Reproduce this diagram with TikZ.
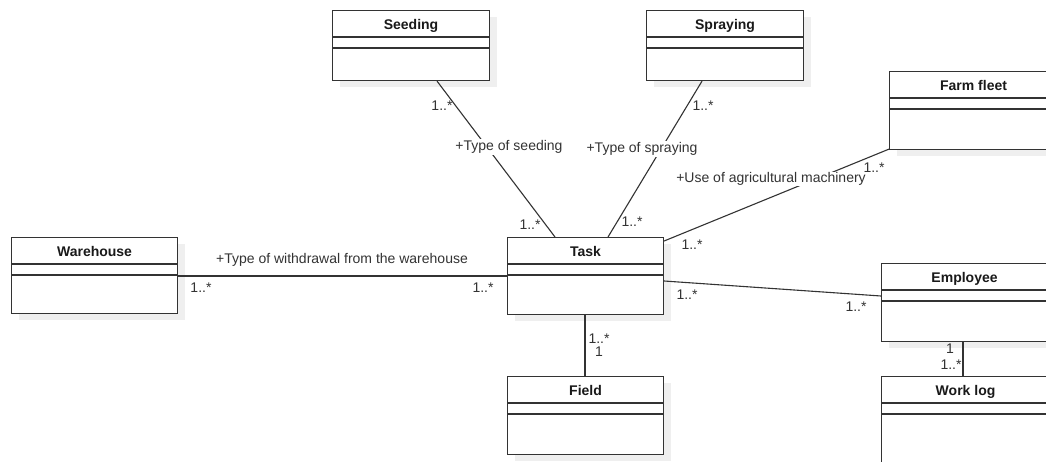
\documentclass[tikz,border=0pt]{standalone}
\usepackage{fontspec}
\setmainfont{Liberation Sans}
\usetikzlibrary{calc}
\definecolor{ink}{HTML}{333333}
\definecolor{shd}{HTML}{EFEFEF}
\tikzset{
  umlbox/.style={draw=ink, line width=1.1pt, fill=white, rectangle, inner sep=0pt, anchor=north west},
  ttl/.style={font=\fontsize{14}{16}\selectfont\bfseries, inner sep=0pt, text=black!90, anchor=base},
  lbl/.style={font=\fontsize{14}{16}\selectfont, inner sep=1.5pt, fill=white, text=ink},
  mult/.style={font=\fontsize{14}{16}\selectfont, inner sep=0pt, text=ink},
  conn/.style={draw=ink, line width=1.1pt},
  sep/.style={draw=ink, line width=1.1pt}
}
\newcommand\umlcls[6]{%
  \fill[shd] (#2+8,#3+7) rectangle ++(#4,#5);
  \node[umlbox, minimum width=#4pt, minimum height=#5pt] (#1) at (#2,#3) {};
  \node[ttl] (#1-t) at ($(#1.north)+(0,19)$) {#6};
  \draw[sep] ($(#1.north west)+(0,27)$) -- ($(#1.north east)+(0,27)$);
  \draw[sep] ($(#1.north west)+(0,38)$) -- ($(#1.north east)+(0,38)$);
}
\begin{document}
\begin{tikzpicture}[x=1pt,y=-1pt]
\useasboundingbox (0,0) rectangle (1046,461);
\clip (0,0) rectangle (1046,461);
\fill[white] (0,0) rectangle (1046,461);
% classes
\umlcls{seeding}{332}{10}{157}{70}{Seeding}
\umlcls{spraying}{646}{10}{157}{70}{Spraying}
\umlcls{farm}{889}{71}{168}{78}{Farm fleet}
\umlcls{warehouse}{11}{237}{166}{76}{Warehouse}
\umlcls{task}{507}{237}{156}{77}{Task}
\umlcls{employee}{881}{263}{166}{78}{Employee}
\umlcls{field}{507}{376}{156}{78}{Field}
\umlcls{worklog}{881}{376}{168}{110}{Work log}
% connectors
\draw[conn] ($(seeding.south west)+(105,0)$) -- ($(task.north west)+(48,0)$);
\draw[conn] ($(spraying.south west)+(56,0)$) -- ($(task.north west)+(101,0)$);
\draw[conn] ($(farm.south west)+(0,-1)$) -- ($(task.north east)+(0,4)$);
\draw[conn] ($(warehouse.north east)+(0,39)$) -- ($(task.north west)+(0,39)$);
\draw[conn] ($(task.north east)+(0,44)$) -- ($(employee.north west)+(0,33)$);
\draw[conn] ($(task.south west)+(78,0)$) -- ($(field.north west)+(78,0)$);
\draw[conn] ($(employee.south west)+(82,0)$) -- ($(worklog.north west)+(82,0)$);
% labels
\node[mult] (m1) at (442,106) {1..*};
\node[lbl] (l1) at (509,147) {+Type of seeding};
\node[mult] (m2) at (530,225) {1..*};
\node[mult] (m3) at (703,106) {1..*};
\node[lbl] (l2) at (642,149) {+Type of spraying};
\node[mult] (m4) at (632,222) {1..*};
\node[mult] (m5) at (874,168) {1..*};
\node[lbl, inner ysep=0.5pt] (l3) at (771,179) {+Use of agricultural machinery};
\node[mult] (m6) at (692,245) {1..*};
\node[lbl] (l4) at (342,260) {+Type of withdrawal from the warehouse};
\node[mult] (m7) at (201,288) {1..*};
\node[mult] (m8) at (483,288) {1..*};
\node[mult] (m9) at (687,295) {1..*};
\node[mult] (m10) at (856,307) {1..*};
\node[mult] (m11) at (599,339) {1..*};
\node[mult] (m12) at (599,352) {1};
\node[mult] (m13) at (950,349) {1};
\node[mult] (m14) at (951,365) {1..*};
\end{tikzpicture}
\end{document}
